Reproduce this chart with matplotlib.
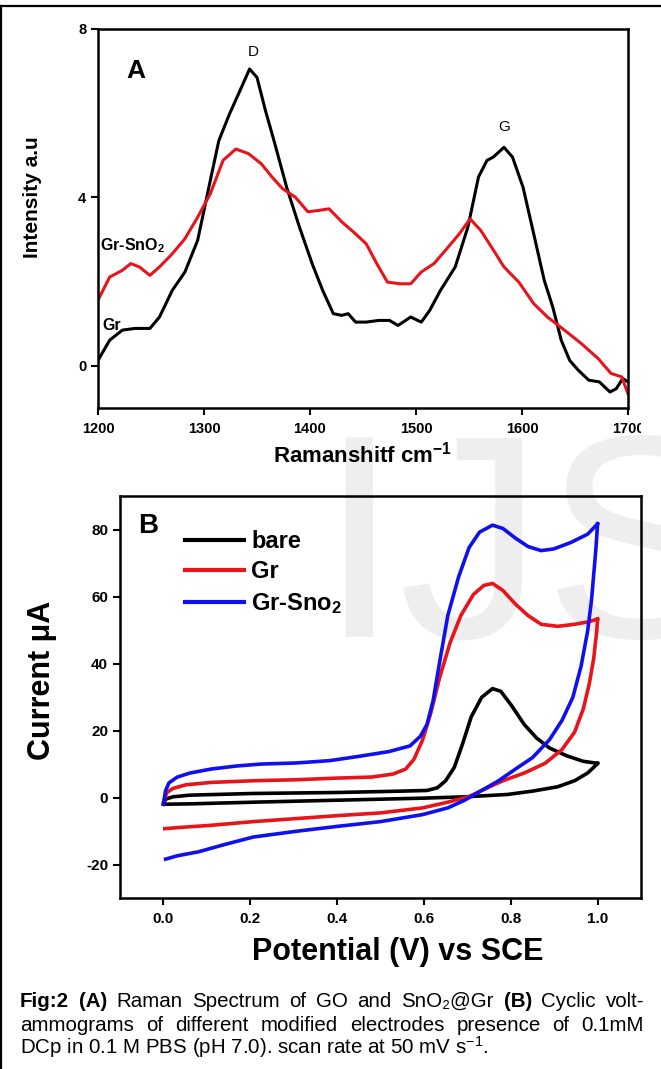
import matplotlib
matplotlib.use("Agg")
import matplotlib.pyplot as plt
from matplotlib.lines import Line2D
from matplotlib.transforms import Bbox

plt.rcParams['font.family'] = ['Liberation Sans', 'DejaVu Sans']
plt.rcParams['mathtext.default'] = 'regular'
plt.rcParams['axes.unicode_minus'] = False

# ---------------- Panel A: Raman data ----------------
gr_x = [1200, 1211, 1223, 1235, 1249, 1258, 1270, 1282, 1294, 1306, 1314, 1324, 1334, 1343,
        1350, 1358, 1366, 1378, 1390, 1402, 1412, 1422, 1430, 1436, 1443, 1453, 1465, 1475,
        1483, 1495, 1505, 1513, 1523, 1537, 1549, 1559, 1567, 1573, 1583, 1591, 1601, 1611,
        1621, 1629, 1637, 1645, 1653, 1663, 1673, 1683, 1689, 1695, 1700]
gr_y = [0.13, 0.61, 0.85, 0.89, 0.89, 1.16, 1.79, 2.23, 2.98, 4.41, 5.35, 5.98, 6.54, 7.05,
        6.85, 6.06, 5.35, 4.24, 3.30, 2.43, 1.79, 1.24, 1.20, 1.24, 1.04, 1.04, 1.08, 1.08,
        0.96, 1.16, 1.04, 1.32, 1.79, 2.35, 3.30, 4.49, 4.88, 4.96, 5.19, 4.96, 4.24, 3.14,
        2.03, 1.40, 0.61, 0.13, -0.10, -0.34, -0.38, -0.62, -0.54, -0.30, -0.38]
grsno2_x = [1200, 1211, 1223, 1231, 1239, 1249, 1258, 1270, 1282, 1294, 1306, 1318, 1330, 1342,
            1354, 1364, 1374, 1386, 1398, 1408, 1418, 1430, 1441, 1453, 1463, 1473, 1485, 1495,
            1505, 1517, 1529, 1541, 1551, 1561, 1571, 1583, 1597, 1611, 1624, 1640, 1656, 1672,
            1684, 1694, 1700]
grsno2_y = [1.56, 2.11, 2.27, 2.43, 2.35, 2.15, 2.35, 2.66, 3.02, 3.53, 4.09, 4.88, 5.15, 5.04,
            4.80, 4.49, 4.21, 4.01, 3.66, 3.69, 3.73, 3.42, 3.18, 2.90, 2.43, 1.99, 1.95, 1.95,
            2.23, 2.43, 2.78, 3.14, 3.49, 3.22, 2.83, 2.35, 1.99, 1.48, 1.16, 0.85, 0.53, 0.17,
            -0.18, -0.26, -0.66]
a_xticks = [1200, 1300, 1400, 1500, 1600, 1700]
a_yticks = [0, 4, 8]

# ---------------- Panel B: CV data ----------------
bare_fwd_x = [0, 0.005, 0.022, 0.061, 0.207, 0.402, 0.548, 0.607, 0.631, 0.650, 0.670, 0.689,
              0.709, 0.733, 0.758, 0.777, 0.801, 0.831, 0.860, 0.889, 0.928, 0.967, 1.0]
bare_fwd_y = [-2.0, -0.5, 0.2, 0.7, 1.2, 1.5, 1.9, 2.1, 2.9, 5.0, 9.0, 16.0,
              24.1, 29.9, 32.5, 31.7, 27.6, 21.8, 17.7, 14.8, 12.5, 10.8, 10.2]
bare_rev_x = [1.0, 0.991, 0.977, 0.947, 0.908, 0.850, 0.792, 0.694, 0.597, 0.402, 0.207, 0.061, 0.003]
bare_rev_y = [10.2, 9.0, 7.3, 5.0, 3.2, 1.9, 0.9, 0.2, -0.2, -0.8, -1.4, -1.9, -2.0]

gr_fwd_x = [0, 0.008, 0.022, 0.052, 0.110, 0.207, 0.305, 0.402, 0.480, 0.529, 0.558, 0.577,
            0.597, 0.616, 0.636, 0.660, 0.685, 0.714, 0.738, 0.758, 0.782, 0.811, 0.840,
            0.870, 0.908, 0.947, 0.981, 1.0]
gr_fwd_y = [-1.4, 1.5, 2.7, 3.8, 4.5, 5.0, 5.3, 5.8, 6.1, 7.0, 8.5, 11.4,
            17.2, 25.3, 35.7, 46.1, 54.3, 60.6, 63.3, 63.9, 61.8, 57.7, 54.3,
            51.7, 51.1, 51.7, 52.5, 53.3]
gr_rev_x = [1.0, 0.998, 0.991, 0.981, 0.967, 0.947, 0.918, 0.879, 0.831, 0.782, 0.743, 0.704,
            0.655, 0.597, 0.500, 0.402, 0.305, 0.207, 0.110, 0.042, 0.003]
gr_rev_y = [53.3, 49.6, 41.5, 34.0, 26.4, 19.5, 14.3, 10.2, 7.3, 5.0, 2.7, 0.3,
            -1.4, -3.1, -4.6, -5.4, -6.3, -7.2, -8.3, -8.9, -9.3]

sno2_fwd_x = [0, 0.005, 0.013, 0.032, 0.061, 0.110, 0.168, 0.227, 0.305, 0.383, 0.451, 0.519,
              0.568, 0.592, 0.607, 0.621, 0.636, 0.655, 0.680, 0.704, 0.728, 0.758, 0.782,
              0.811, 0.840, 0.870, 0.899, 0.938, 0.977, 1.0]
sno2_fwd_y = [-2.0, 2.1, 4.4, 6.1, 7.3, 8.5, 9.4, 10.0, 10.3, 11.0, 12.3, 13.7,
              15.4, 18.3, 21.8, 28.8, 40.3, 54.3, 65.9, 74.6, 79.2, 81.3, 80.3,
              77.4, 74.9, 73.7, 74.2, 76.1, 78.6, 81.7]
sno2_rev_x = [1.0, 0.996, 0.986, 0.977, 0.962, 0.943, 0.918, 0.889, 0.850, 0.811, 0.772, 0.733,
              0.694, 0.655, 0.597, 0.500, 0.402, 0.305, 0.207, 0.139, 0.081, 0.032, 0.005]
sno2_rev_y = [81.7, 74.0, 58.9, 49.6, 39.2, 29.9, 23.0, 17.2, 11.9, 8.5, 5.0, 2.1,
              -0.8, -3.1, -5.1, -7.2, -8.6, -10.1, -11.8, -14.1, -16.2, -17.4, -18.4]
b_xticks = [0.0, 0.2, 0.4, 0.6, 0.8, 1.0]
b_yticks = [-20, 0, 20, 40, 60, 80]
legend_labels = ['bare', 'Gr', 'Gr-Sno$_2$']

RED = '#e8141b'
BLUE = '#1010ee'

W, H = 661, 1069
fig = plt.figure(figsize=(W / 100, H / 100), dpi=100)
fig.patch.set_facecolor('white')


def px_axes(l, t, r, b):
    return fig.add_axes([l / W, 1 - b / H, (r - l) / W, (b - t) / H])


def style(ax, fs):
    for s in ax.spines.values():
        s.set_linewidth(1.8)
    ax.tick_params(direction='out', length=5, width=1.5, labelsize=fs, pad=3.5)
    for lb in ax.get_xticklabels() + ax.get_yticklabels():
        lb.set_fontweight('bold')
    ax.set_facecolor('none')


# watermark
fig.text(318 / W, 1 - 637 / H, 'IJSER', fontsize=209, color='#eeeeee',
         ha='left', va='baseline', zorder=-10)

# border lines
fig.add_artist(Line2D([0, 1], [1 - 6 / H, 1 - 6 / H], color='black', lw=1.6,
                      transform=fig.transFigure))
fig.add_artist(Line2D([1.2 / W, 1.2 / W], [0, 1 - 6 / H], color='black', lw=1.6,
                      transform=fig.transFigure))

# ---------------- Panel A ----------------
axA = px_axes(98, 29, 628, 408)
axA.plot(gr_x, gr_y, color='black', lw=2.2)
axA.plot(grsno2_x, grsno2_y, color=RED, lw=2.2)
axA.set_xlim(1200, 1700)
axA.set_ylim(-1, 8)
axA.set_xticks(a_xticks)
axA.set_yticks(a_yticks)
style(axA, 10.5)
axA.tick_params(axis='x', pad=5)
axA.text(1346, 7.45, 'D', fontsize=11, ha='center', va='center')
axA.text(1583.6, 5.68, 'G', fontsize=11, ha='center', va='center')
axA.text(1236, 7.0, 'A', fontsize=19, fontweight='bold', ha='center', va='center')
axA.text(1202, 2.86, 'Gr-SnO$_2$', fontsize=11.5, fontweight='bold', ha='left', va='center')
axA.text(1204, 0.95, 'Gr', fontsize=11.5, fontweight='bold', ha='left', va='center')
fig.text(363 / W, 1 - 455 / H, 'Ramanshitf cm$^{-1}$', fontsize=16, fontweight='bold',
         ha='center', va='center')
fig.text(33 / W, 1 - 197 / H, 'Intensity a.u', fontsize=15, fontweight='bold',
         rotation=90, ha='center', va='center')
last = axA.xaxis.get_major_ticks()[-1].label1
last.set_clip_box(Bbox([[0, 0], [641, H]]))
last.set_clip_on(True)

# ---------------- Panel B ----------------
axB = px_axes(120, 496, 641, 898)
axB.plot(bare_fwd_x, bare_fwd_y, color='black', lw=2.6)
axB.plot(bare_rev_x, bare_rev_y, color='black', lw=2.6)
axB.plot(gr_fwd_x, gr_fwd_y, color=RED, lw=2.6)
axB.plot(gr_rev_x, gr_rev_y, color=RED, lw=2.6)
axB.plot(sno2_fwd_x, sno2_fwd_y, color=BLUE, lw=2.6)
axB.plot(sno2_rev_x, sno2_rev_y, color=BLUE, lw=2.6)
axB.set_xlim(-0.1, 1.1)
axB.set_ylim(-30, 90)
axB.set_xticks(b_xticks)
axB.set_xticklabels([f'{v:.1f}' for v in b_xticks])
axB.set_yticks(b_yticks)
style(axB, 11)
axB.tick_params(axis='x', pad=5)
axB.text(-0.036, 81, 'B', fontsize=20, fontweight='bold', ha='center', va='center')
handles = [Line2D([], [], color=c, lw=3) for c in ['black', RED, BLUE]]
axB.legend(handles, legend_labels, loc='upper left', bbox_to_anchor=(0.125, 0.915),
           frameon=False, prop={'weight': 'bold', 'size': 17}, handlelength=2.5,
           handletextpad=0.3, labelspacing=0.31, borderaxespad=0, borderpad=0)
fig.text(398 / W, 1 - 952 / H, 'Potential (V) vs SCE', fontsize=22, fontweight='bold',
         ha='center', va='center')
fig.text(42 / W, 1 - 680 / H, 'Current μA', fontsize=22, fontweight='bold',
         rotation=90, ha='center', va='center')

# ---------------- Caption (justified) ----------------
cap_fs = 14.8
cap_lines = [
    [('Fig:2', 'bold'), ('(A)', 'bold'), ('Raman', 'normal'), ('Spectrum', 'normal'),
     ('of', 'normal'), ('GO', 'normal'), ('and', 'normal'), ('SnO₂@Gr', 'normal'),
     ('(B)', 'bold'), ('Cyclic', 'normal'), ('volt-', 'normal')],
    [(w, 'normal') for w in 'ammograms of different modified electrodes presence of 0.1mM'.split()],
]
cap_last = 'DCp in 0.1 M PBS (pH 7.0). scan rate at 50 mV s$^{-1}$.'
cap_baselines = [1007, 1031, 1054]
cap_left, cap_right = 20, 644

fig.canvas.draw()
rend = fig.canvas.get_renderer()


def width_of(s, weight):
    t = fig.text(0, 0, s, fontsize=cap_fs, fontweight=weight)
    w = t.get_window_extent(rend).width
    t.remove()
    return w


for line, base in zip(cap_lines, cap_baselines):
    widths = [width_of(w, wt) for w, wt in line]
    gap = (cap_right - cap_left - sum(widths)) / (len(line) - 1)
    x = cap_left
    for (w, wt), wd in zip(line, widths):
        fig.text(x / W, 1 - base / H, w, fontsize=cap_fs, fontweight=wt,
                 ha='left', va='baseline')
        x += wd + gap
fig.text(cap_left / W, 1 - cap_baselines[2] / H, cap_last, fontsize=cap_fs,
         ha='left', va='baseline')

fig.savefig('out.png', dpi=100)
